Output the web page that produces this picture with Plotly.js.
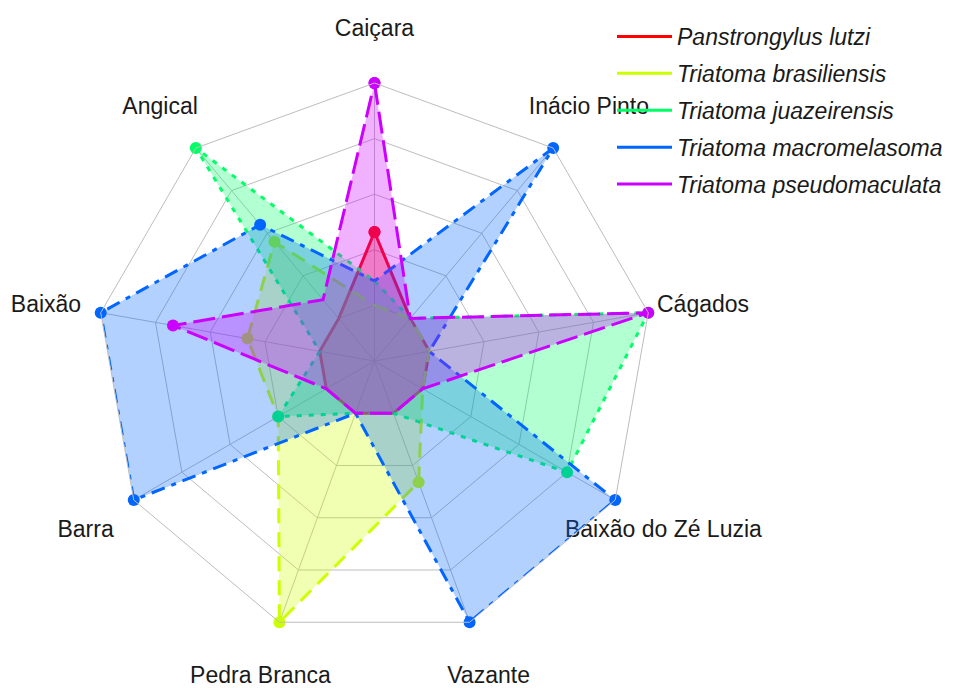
<!DOCTYPE html>
<html>
<head>
<meta charset="utf-8">
<script src="https://cdn.plot.ly/plotly-3.0.1.min.js"></script>
<style>
html,body{margin:0;padding:0;background:#fff;}
#chart{width:955px;height:688px;}
</style>
</head>
<body>
<div id="chart"></div>
<script>
// Axes (localities), clockwise from top
const localities = ["Caiçara", "Inácio Pinto", "Cágados", "Baixão do Zé Luzia", "Vazante", "Pedra Branca", "Barra", "Baixão", "Angical"];

// Series names
const species = ["Panstrongylus lutzi", "Triatoma brasiliensis", "Triatoma juazeirensis", "Triatoma macromelasoma", "Triatoma pseudomaculata"];

// Relative values (0 = minimum, 1 = maximum) per locality
const lutzi          = [0.33, 0, 0, 0,    0,    0, 0,    0,    0];
const brasiliensis   = [0,    0, 0, 0,    0.33, 1, 0.25, 0.33, 0.45];
const juazeirensis   = [0.11, 0, 1, 0.75, 0,    0, 0.25, 0,    1];
const macromelasoma  = [0.11, 1, 0, 1,    1,    0, 1,    1,    0.55];
const pseudomaculata = [1,    0, 1, 0,    0,    0, 0,    0.67, 0.11];

const seriesValues = [lutzi, brasiliensis, juazeirensis, macromelasoma, pseudomaculata];
const lineColors = ["#FF0000", "#CCFF00", "#00FF66", "#0066FF", "#CC00FF"];
const fillColors = ["rgba(255,0,0,0.3)", "rgba(204,255,0,0.3)", "rgba(0,255,102,0.3)", "rgba(0,102,255,0.3)", "rgba(204,0,255,0.3)"];
const dashes = ["solid", "15px,9px", "5px,7px", "5px,7px,14px,7px", "22px,7px"];

const rMin = -0.25, rMax = 1;

// geometry of the plot area (pixels)
const W = 955, H = 688, CX = 374.5, CY = 361, RAD = 278;

const traces = [];
seriesValues.forEach((vals, i) => {
  traces.push({
    type: "scatterpolar",
    r: vals.concat([vals[0]]),
    theta: localities.concat([localities[0]]),
    mode: "lines+markers",
    fill: "toself",
    fillcolor: fillColors[i],
    line: {color: lineColors[i], width: 3, dash: dashes[i]},
    marker: {color: lineColors[i], size: 12},
    name: species[i],
    showlegend: false,
    hoverinfo: "skip"
  });
});
// legend entries (solid lines)
seriesValues.forEach((vals, i) => {
  traces.push({
    type: "scatterpolar",
    r: [null],
    theta: [localities[0]],
    mode: "lines",
    line: {color: lineColors[i], width: 3},
    name: species[i],
    legendgroup: "g" + i,
    showlegend: true,
    hoverinfo: "skip"
  });
});
// axis labels: placed at 1.2 x outer radius on an overlaid cartesian frame (1 unit = outer radius)
const n = localities.length;
const labelAngles = localities.map((_, i) => (90 - i * 360 / n) * Math.PI / 180);
const textDrop = 3 / RAD; // small vertical baseline adjustment
traces.push({
  type: "scatter",
  xaxis: "x", yaxis: "y",
  x: labelAngles.map(a => 1.2 * Math.cos(a)),
  y: labelAngles.map(a => 1.2 * Math.sin(a) - textDrop),
  mode: "text",
  text: localities,
  textposition: "middle center",
  textfont: {family: "Liberation Sans, Arial, sans-serif", size: 23, color: "#1a1a1a"},
  cliponaxis: false,
  showlegend: false,
  hoverinfo: "skip"
});

const layout = {
  width: W, height: H,
  margin: {l: 0, r: 0, t: 0, b: 0},
  paper_bgcolor: "#ffffff",
  plot_bgcolor: "rgba(0,0,0,0)",
  font: {family: "Liberation Sans, Arial, sans-serif", color: "#1a1a1a"},
  xaxis: {domain: [0, 1], range: [-CX / RAD, (W - CX) / RAD], visible: false, fixedrange: true},
  yaxis: {domain: [0, 1], range: [-(H - CY) / RAD, CY / RAD], visible: false, fixedrange: true},
  polar: {
    domain: {x: [(CX - RAD) / W, (CX + RAD) / W], y: [(H - CY - RAD) / H, (H - CY + RAD) / H]},
    gridshape: "linear",
    bgcolor: "rgba(0,0,0,0)",
    radialaxis: {
      range: [rMin, rMax],
      tickvals: [0, 0.25, 0.5, 0.75, 1],
      showticklabels: false,
      ticks: "",
      showline: false,
      gridcolor: "#bdbdbd",
      gridwidth: 1
    },
    angularaxis: {
      type: "category",
      categoryarray: localities,
      rotation: 90,
      direction: "clockwise",
      showticklabels: false,
      ticks: "",
      showline: true,
      linecolor: "#bdbdbd",
      linewidth: 1,
      gridcolor: "#bdbdbd",
      gridwidth: 1
    }
  },
  legend: {
    x: 612 / W, xanchor: "left",
    y: 1 - 15 / H, yanchor: "top",
    font: {family: "Liberation Sans, Arial, sans-serif", size: 23, style: "italic", color: "#1a1a1a"},
    itemwidth: 55,
    traceorder: "grouped",
    tracegroupgap: 4,
    bgcolor: "rgba(0,0,0,0)"
  },
  showlegend: true
};

Plotly.newPlot("chart", traces, layout, {displayModeBar: false, staticPlot: true});
</script>
</body>
</html>
